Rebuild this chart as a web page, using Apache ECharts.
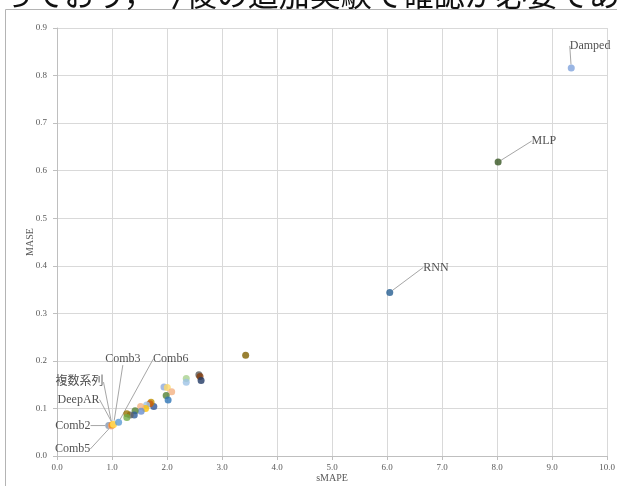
<!DOCTYPE html>
<html>
<head>
<meta charset="utf-8">
<script src="https://cdn.jsdelivr.net/npm/echarts@6/dist/echarts.min.js"></script>
<style>
  html, body { margin: 0; padding: 0; background: #fff; }
  #chart { width: 617px; height: 486px; }
</style>
</head>
<body>
<div id="chart"></div>
<script>
// model names (blank = unlabeled series)
const names = [
  'Damped', 'MLP', 'RNN',
  '', '', '', '', '', '', '', '', '', '', '', '', '', '', '', '', '', '', '', '', '', '', '',
  'Comb2', 'Comb5', '複数系列', 'DeepAR', 'Comb3', 'Comb6'
]
// sMAPE (x)
const smape = [
  9.35, 8.02, 6.05,
  3.43, 2.58, 2.60, 2.62, 2.35, 2.35, 1.945, 2.005, 2.085, 1.985, 2.02,
  1.76, 1.71, 1.69, 1.63, 1.61, 1.52, 1.53, 1.42, 1.405, 1.33, 1.27, 1.27,
  0.94, 0.99, 1.00, 1.02, 1.03, 1.12
]
// MASE (y)
const mase = [
  0.816, 0.618, 0.344,
  0.212, 0.171, 0.167, 0.159, 0.163, 0.155, 0.145, 0.144, 0.135, 0.127, 0.118,
  0.104, 0.113, 0.110, 0.107, 0.100, 0.104, 0.094, 0.095, 0.086, 0.086, 0.089, 0.081,
  0.064, 0.063, 0.065, 0.066, 0.067, 0.071
]
const palette = [
  '#7fa3dc', '#375623', '#255e91',
  '#7f6000', '#595959', '#843c0c', '#203864', '#a9d18e', '#9dc3e6', '#8faadc', '#ffd966', '#f4b183', '#548235', '#2e75b6',
  '#2f5597', '#bf9000', '#c55a11', '#9dc3e6', '#ffc000', '#f4b183', '#698ed0', '#548235', '#2e5c9a', '#636363', '#997300', '#70ad47',
  '#8497b0', '#f4b183', '#ed7d31', '#ffc000', '#ffd966', '#5b9bd5'
]
const xTicks = ['0.0', '1.0', '2.0', '3.0', '4.0', '5.0', '6.0', '7.0', '8.0', '9.0', '10.0']

// label offsets (px) from the point
const labelShift = {
  'Damped': [-5, -22],
  'MLP': [30, -21],
  'RNN': [30, -25],
  'Comb2': [-57, 0],
  'Comb5': [-60, 23],
  '複数系列': [-60, -43],
  'DeepAR': [-59, -25],
  'Comb3': [-12, -65],
  'Comb6': [31, -63]
}

const serif = '"Liberation Serif", "DejaVu Serif", "Noto Sans CJK JP", serif'

const chart = echarts.init(document.getElementById('chart'))

const points = names.map((n, i) => ({
  name: n,
  value: [smape[i], mase[i]],
  itemStyle: { color: palette[i] },
  label: { show: n !== '' }
}))

chart.setOption({
  animation: false,
  backgroundColor: '#fff',
  graphic: [
    {
      type: 'rect',
      shape: { x: 5.5, y: 9.5, width: 700, height: 600 },
      style: { fill: 'none', stroke: '#b4b4b4', lineWidth: 1 },
      silent: true
    },
    {
      type: 'text',
      left: 2,
      top: -21,
      style: {
        text: 'っており，今後の追加実験で確認が必要である',
        font: '31px "Noto Sans CJK JP", sans-serif',
        fill: '#111'
      },
      silent: true
    }
  ],
  grid: { left: 57, right: 10, top: 28, bottom: 30, outerBoundsMode: 'none' },
  xAxis: {
    type: 'value',
    min: 0,
    max: 10,
    interval: 1,
    name: 'sMAPE',
    nameLocation: 'middle',
    nameGap: 17,
    nameMoveOverlap: false,
    nameTextStyle: { color: '#595959', fontSize: 10, fontFamily: serif },
    axisLine: { show: true, lineStyle: { color: '#bfbfbf' } },
    axisTick: { show: true, length: 4, lineStyle: { color: '#bfbfbf' } },
    axisLabel: {
      color: '#595959', fontSize: 9, fontFamily: serif, margin: 7,
      formatter: (v) => xTicks[Math.round(v)]
    },
    splitLine: { show: true, lineStyle: { color: '#d9d9d9' } }
  },
  yAxis: {
    type: 'value',
    min: 0,
    max: 0.9,
    interval: 0.1,
    name: 'MASE',
    nameLocation: 'middle',
    nameGap: 22,
    nameMoveOverlap: false,
    nameRotate: 90,
    nameTextStyle: { color: '#595959', fontSize: 10, fontFamily: serif },
    axisLine: { show: true, lineStyle: { color: '#bfbfbf' } },
    axisTick: { show: true, length: 4, lineStyle: { color: '#bfbfbf' } },
    axisLabel: {
      color: '#595959', fontSize: 9, fontFamily: serif, margin: 10,
      formatter: (v) => v.toFixed(1)
    },
    splitLine: { show: true, lineStyle: { color: '#d9d9d9' } }
  },
  series: [
    {
      type: 'scatter',
      symbolSize: 7,
      data: points,
      label: {
        position: 'right',
        distance: 0,
        formatter: '{b}',
        color: '#262626',
        fontSize: 12,
        fontFamily: serif
      },
      labelLine: {
        show: true,
        lineStyle: { color: '#a6a6a6', width: 1 }
      },
      labelLayout: function (params) {
        const s = labelShift[names[params.dataIndex]]
        if (!s) return {}
        return { dx: s[0], dy: s[1] }
      }
    }
  ]
})
</script>
</body>
</html>
